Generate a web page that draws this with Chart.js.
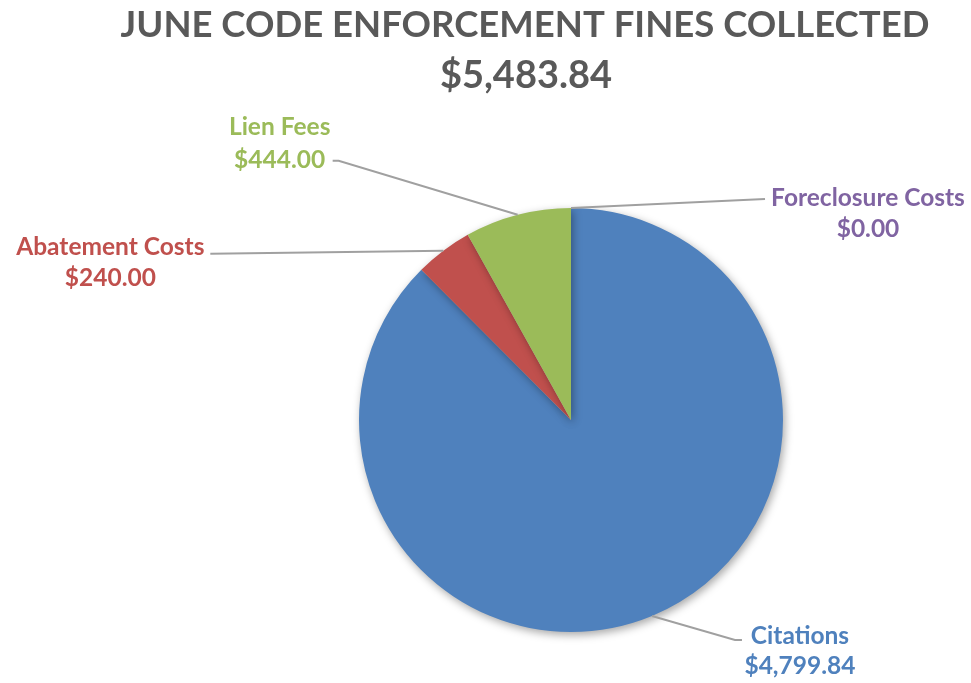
<!DOCTYPE html>
<html>
<head>
<meta charset="utf-8">
<script src="https://cdn.jsdelivr.net/npm/chart.js@4.4.1/dist/chart.umd.min.js"></script>
<style>
  html, body { margin: 0; padding: 0; background: #ffffff; }
  #wrap { width: 971px; height: 683px; }
</style>
</head>
<body>
<div id="wrap"><canvas id="finesChart" width="971" height="683"></canvas></div>
<script>
// =======================
// Data
// =======================

const categories = ["Citations", "Abatement Costs", "Lien Fees", "Foreclosure Costs"];
const amounts = [4799.84, 240.00, 444.00, 0.00];
const titleLines = ["JUNE CODE ENFORCEMENT FINES COLLECTED", "$5,483.84"];

const sliceColors = ["#4F81BD", "#C0504D", "#9BBB59", "#8064A2"];

// where each label sits relative to the edge of its slice (elbow of leader line,
// then text centre x and the y of both text lines relative to the elbow)
const labelLayout = [
    { ex: 90,   ey: 24, stub: 7,  tx: 58,   ty1: -4, ty2: 26 },
    { ex: -233, ey: 3,  stub: 0,  tx: -100, ty1: -7, ty2: 24 },
    { ex: -185, ey: -54, stub: -6, tx: -53, ty1: -34, ty2: -1 },
    { ex: 194,  ey: -9, stub: 0,  tx: 103,  ty1: -1, ty2: 30 }
];

const fmt = v => "$" + v.toLocaleString("en-US", { minimumFractionDigits: 2, maximumFractionDigits: 2 });

const FONT = "Lato, 'Open Sans', sans-serif";

// title drawn by hand so it can sit off centre like the original
const titlePlugin = {
    id: "titleText",
    afterDraw(chart) {
        const ctx = chart.ctx;
        ctx.save();
        ctx.fillStyle = "#595959";
        ctx.textAlign = "center";
        ctx.textBaseline = "middle";
        ctx.font = "bold 36.5px " + FONT;
        ctx.fillText(titleLines[0], 525, 25);
        ctx.font = "bold 38px " + FONT;
        ctx.fillText(titleLines[1], 526, 76);
        ctx.restore();
    }
};

const shadowPlugin = {
    id: "pieShadow",
    beforeDatasetsDraw(chart) {
        const ctx = chart.ctx;
        ctx.save();
        ctx.shadowColor = "rgba(0,0,0,0.35)";
        ctx.shadowBlur = 9;
        ctx.shadowOffsetX = 2;
        ctx.shadowOffsetY = 3;
    },
    afterDatasetsDraw(chart) {
        chart.ctx.restore();
    }
};

const labelPlugin = {
    id: "sliceLabels",
    afterDatasetsDraw(chart) {
        const ctx = chart.ctx;
        const meta = chart.getDatasetMeta(0);
        meta.data.forEach((arc, i) => {
            const p = arc.getProps(["x", "y", "startAngle", "endAngle", "outerRadius"], true);
            const a = (p.startAngle + p.endAngle) / 2;
            const sx = p.x + Math.cos(a) * p.outerRadius;
            const sy = p.y + Math.sin(a) * p.outerRadius;
            const L = labelLayout[i];
            const exx = sx + L.ex;
            const eyy = sy + L.ey;

            ctx.save();
            ctx.strokeStyle = "#A0A0A0";
            ctx.lineWidth = 2;
            ctx.beginPath();
            ctx.moveTo(sx, sy);
            ctx.lineTo(exx - L.stub, eyy);
            ctx.lineTo(exx, eyy);
            ctx.stroke();

            ctx.fillStyle = sliceColors[i];
            ctx.font = "bold 24.5px " + FONT;
            ctx.textAlign = "center";
            ctx.textBaseline = "middle";
            ctx.fillText(categories[i], exx + L.tx, eyy + L.ty1);
            ctx.fillText(fmt(amounts[i]), exx + L.tx, eyy + L.ty2);
            ctx.restore();
        });
    }
};

// =======================
// Pie Chart
// =======================

new Chart(document.getElementById("finesChart"), {
    type: "pie",
    data: {
        labels: categories,
        datasets: [{
            data: amounts,
            backgroundColor: sliceColors,
            borderWidth: 0
        }]
    },
    options: {
        responsive: false,
        animation: false,
        devicePixelRatio: 1,
        layout: {
            padding: { top: 208, bottom: 51, left: 359, right: 188 }
        },
        plugins: {
            legend: { display: false },
            tooltip: { enabled: false },
            title: { display: false }
        }
    },
    plugins: [titlePlugin, shadowPlugin, labelPlugin]
});
</script>
</body>
</html>
